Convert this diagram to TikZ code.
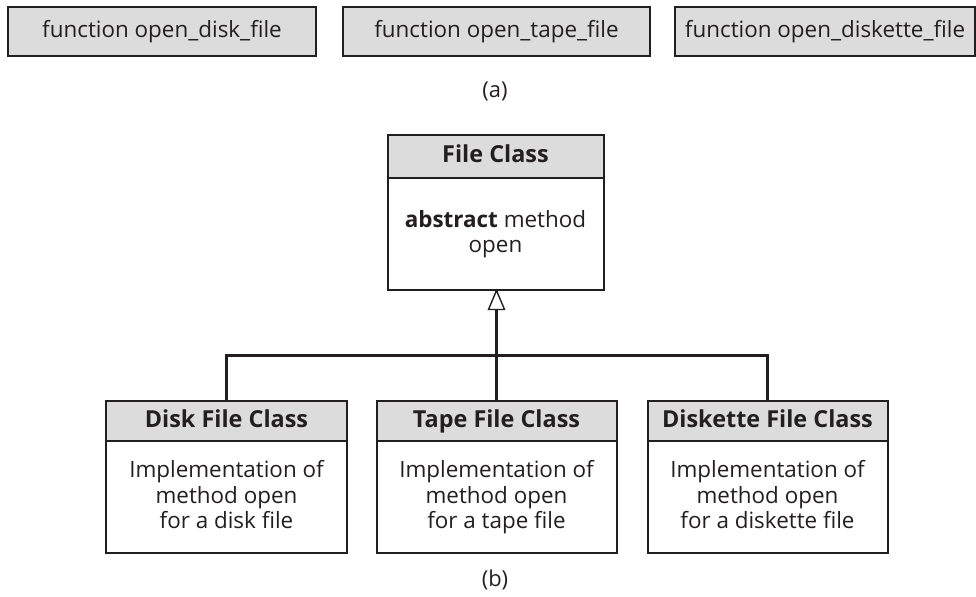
\documentclass[tikz,border=0pt]{standalone}
\usepackage{fontspec}
\setmainfont{Open Sans}
\usetikzlibrary{arrows.meta}
\definecolor{hdrgray}{HTML}{DCDCDC}
\definecolor{ink}{HTML}{231F20}
\begin{document}
\begin{tikzpicture}[x=1bp,y=-1bp,
  fnbox/.style={draw=ink, line width=1.3bp, fill=hdrgray, minimum height=49bp, inner sep=0pt, text height=17bp, text depth=5bp, text=ink, font=\fontsize{22.5}{26}\selectfont},
  hdr/.style={draw=ink, line width=2bp, fill=hdrgray, minimum width=240bp, minimum height=40bp, inner sep=0pt, text height=17bp, text depth=5bp, text=ink, font=\bfseries\fontsize{23.5}{26}\selectfont},
  body/.style={draw=ink, line width=2bp, fill=white, minimum width=240bp, minimum height=112bp, inner sep=0pt, align=center, text depth=5bp, text=ink, font=\fontsize{22.5}{25.5}\selectfont},
  conn/.style={draw=ink, line width=3bp, line join=miter},
  tri/.style={draw=ink, fill=white, line width=1.4bp, line join=miter},
  lbl/.style={text=ink, font=\fontsize{22}{26}\selectfont}]
\useasboundingbox (0,0) rectangle (976,597);
% (a)
\node[fnbox, minimum width=308bp] (f1) at (162,31.5) {function open\_disk\_file};
\node[fnbox, minimum width=307bp] (f2) at (496.5,31.5) {function open\_tape\_file};
\node[fnbox, minimum width=300bp] (f3) at (825,31.5) {function open\_diskette\_file};
\node[lbl] (la) at (495,91) {(a)};
% (b) base class
\node[body, minimum width=216bp] (fcb) at (495.5,234) {\textbf{abstract} method\\open};
\node[hdr, minimum width=216bp, minimum height=43bp] (fch) at (495.5,156.5) {File Class};
% subclasses
\node[body] (dkb) at (226.5,497) {Implementation of\\method open\\for a disk file};
\node[hdr] (dkh) at (226.5,421) {Disk File Class};
\node[body] (tpb) at (496.5,497) {Implementation of\\method open\\for a tape file};
\node[hdr] (tph) at (496.5,421) {Tape File Class};
\node[body] (dtb) at (767.5,497) {Implementation of\\method open\\for a diskette file};
\node[hdr] (dth) at (767.5,421) {Diskette File Class};
\node[lbl] (lb) at (495,580) {(b)};
% connectors
\coordinate (hub) at (496.5,355.5);
\coordinate (tip) at (496.5,290.5);
\draw[conn] (dkh.north) |- (hub) -| (dth.north);
\draw[conn] (tph.north) -- (hub) -- (tip);
\draw[tri] (tip) -- ++(-8,19) -- ++(16,0) -- cycle;
\end{tikzpicture}
\end{document}
